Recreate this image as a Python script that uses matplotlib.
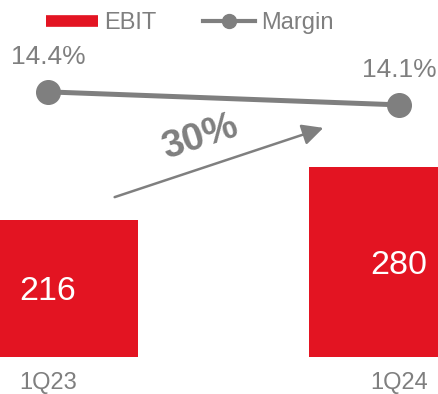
import matplotlib
matplotlib.use('Agg')
import matplotlib.pyplot as plt
from matplotlib.lines import Line2D
from matplotlib.patches import FancyArrowPatch

plt.rcParams['font.family'] = ['Liberation Sans', 'DejaVu Sans']

# EBIT and margin per quarter
quarters = ['1Q23', '1Q24']
ebit = [216, 280]
margin = [14.4, 14.1]
growth_label = '30%'

RED = '#e31422'
GREY = '#7f7f7f'

W, H = 439, 394
fig = plt.figure(figsize=(W / 100, H / 100), dpi=100)

# bars axis spans the full width; bottom leaves room for quarter labels
bottom_px = 37.3
ax = fig.add_axes([0, bottom_px / H, 1, 1 - bottom_px / H])
x = list(range(len(quarters)))
ax.bar(x, ebit, width=0.513, color=RED, zorder=2)
ax.set_xlim(-0.137, 1.114)
ax.set_ylim(50, 483)
for spine in ax.spines.values():
    spine.set_visible(False)
ax.set_yticks([])
ax.set_xticks(x, quarters, fontsize=17, color=GREY)
ax.tick_params(axis='x', length=0, pad=11)

# value labels in the middle of the visible part of each bar
for xi, v in zip(x, ebit):
    ax.text(xi, (v + 50) / 2, str(v), ha='center', va='center_baseline',
            fontsize=24.5, color='white')

# margin line on a second axis
ax2 = ax.twinx()
ax2.set_ylim(8.29, 16.52)
ax2.plot(x, margin, color=GREY, lw=3.6, marker='o', markersize=17,
         zorder=3)
ax2.set_yticks([])
for spine in ax2.spines.values():
    spine.set_visible(False)
for xi, m in zip(x, margin):
    ax2.annotate(f'{m:.1f}%', (xi, m), xytext=(0, 27),
                 textcoords='offset points', ha='center',
                 va='center_baseline', fontsize=19, color=GREY)

# growth arrow between the two quarters
fig.patches.append(FancyArrowPatch(
    (112 / W, 1 - 198 / H), (326 / W, 1 - 127 / H),
    transform=fig.transFigure, arrowstyle='-|>,head_length=8,head_width=4',
    color=GREY, lw=1.8, mutation_scale=1.6))
fig.text(200 / W, 1 - 137 / H, growth_label, ha='center', va='center',
         rotation=18, fontsize=28, fontweight='bold', color=GREY)

# legend
handles = [
    Line2D([], [], color=RED, lw=8.4, solid_capstyle='butt'),
    Line2D([], [], color=GREY, lw=3, marker='o', markersize=10),
]
fig.legend(handles, ['EBIT', 'Margin'], loc='center',
           bbox_to_anchor=(190 / W, 1 - 23 / H), ncol=2, frameon=False,
           fontsize=17, labelcolor=GREY, handlelength=2.2,
           handletextpad=0.25, columnspacing=2.0, borderpad=0)

fig.savefig('out.png', dpi=100)
